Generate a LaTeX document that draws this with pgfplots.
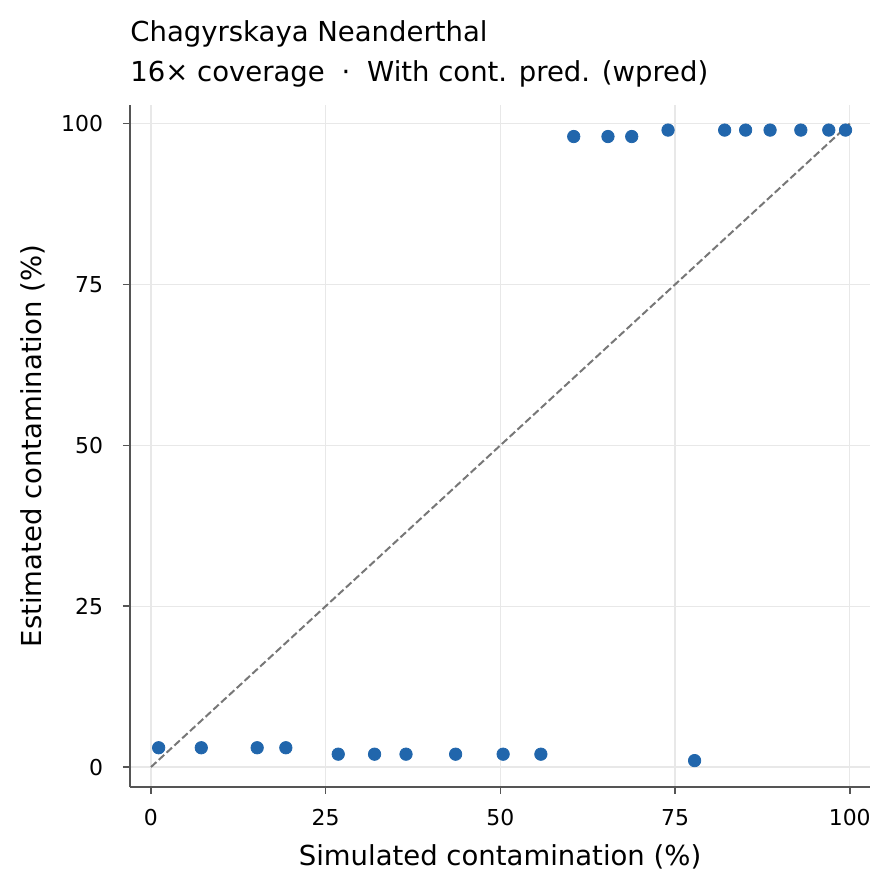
\documentclass[border=0pt]{standalone}
\usepackage{fontspec}
\setmainfont{DejaVu Sans}
\usepackage{pgfplots}
\pgfplotsset{compat=1.18}
\definecolor{ptc}{HTML}{2166AC}
\definecolor{spine}{HTML}{555555}
\definecolor{gridc}{HTML}{E8E8E8}
\definecolor{diag}{HTML}{777777}
\begin{document}
\begin{tikzpicture}
\path[use as bounding box] (-65bp,-53bp) rectangle (382bp,393.5bp);
\begin{axis}[
 at={(0,0)}, anchor=south west,
 scale only axis, width=370bp, height=341bp,
 xmin=-3, xmax=102.9, ymin=-3.1, ymax=102.9,
 axis x line*=bottom, axis y line*=left,
 axis line style={spine, line width=0.8bp},
 xtick={0,25,50,75,100}, ytick={0,25,50,75,100},
 tick align=outside, major tick length=3.5bp,
 tick style={spine, line width=0.8bp},
 grid=major, major grid style={gridc, line width=0.6bp},
 ticklabel style={font=\fontsize{11}{12}\selectfont},
 yticklabel style={xshift=-6.5bp},
 xticklabel style={yshift=-4bp},
 /pgf/number format/assume math mode=true,
 clip=false,
]
\addplot[diag, line width=1bp, dash pattern=on 3.7bp off 1.6bp] coordinates {(0,0) (100,100)};
\addplot[only marks, mark=*, mark size=3.1bp, mark options={draw=ptc, fill=ptc}] coordinates {
(1.1,3) (7.2,3) (15.2,3) (19.3,3)
(26.8,2) (32,2) (36.5,2) (43.6,2) (50.4,2) (55.8,2)
(60.5,98) (65.4,98) (68.8,98) (74,99)
(77.8,1)
(82.1,99) (85.1,99) (88.6,99) (93,99) (97,99) (99.4,99)
};
\end{axis}
\node[anchor=base west, inner sep=0, font=\fontsize{13.8}{16}\selectfont] at (0bp,372.5bp) {Chagyrskaya Neanderthal};
\node[anchor=base west, inner sep=0, font=\fontsize{13.8}{16}\selectfont] at (0bp,352.5bp) {16× coverage\hspace{8.4bp}·\hspace{8.4bp}With cont. pred. (wpred)};
\node[anchor=base, inner sep=0, font=\fontsize{13.8}{16}\selectfont] at (185bp,-39bp) {Simulated contamination (\%)};
\node[anchor=center, inner sep=0, rotate=90, font=\fontsize{13.8}{16}\selectfont] at (-48.5bp,170.5bp) {Estimated contamination (\%)};
\end{tikzpicture}
\end{document}
